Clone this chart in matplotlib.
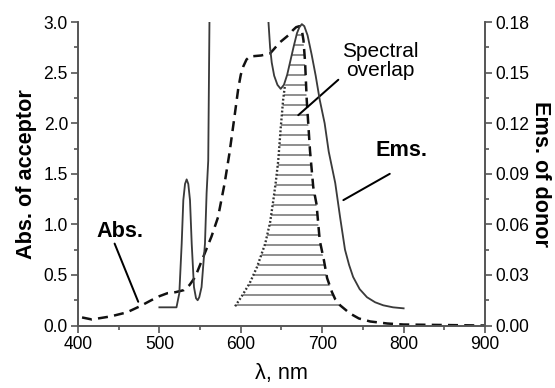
import numpy as np
import matplotlib.pyplot as plt
from matplotlib.patches import Polygon

plt.rcParams['font.family'] = ['Liberation Sans', 'DejaVu Sans']
plt.rcParams['hatch.linewidth'] = 0.7

# absorption of acceptor (left axis)
abs_nm = [405, 417, 440, 460, 476, 490, 500, 510, 520, 530, 537, 544, 554, 564, 572,
          580, 586, 592, 597, 600, 603, 607, 611, 625, 636, 648, 660, 664, 668, 672, 675,
          677, 679, 681, 685, 689, 693, 697, 702, 706, 712, 716, 722, 734, 745, 759, 780,
          800, 850, 900]
abs_val = [0.08, 0.06, 0.09, 0.13, 0.19, 0.25, 0.29, 0.32, 0.33, 0.35, 0.40, 0.48, 0.68, 0.88, 1.07,
           1.40, 1.70, 2.05, 2.35, 2.48, 2.56, 2.63, 2.66, 2.67, 2.69, 2.80, 2.88, 2.92, 2.95, 2.96, 2.92,
           2.82, 2.60, 2.23, 1.73, 1.37, 1.20, 0.84, 0.65, 0.47, 0.33, 0.26, 0.20, 0.12, 0.07, 0.04, 0.02,
           0.01, 0.005, 0.0]

# emission of donor (right axis)
ems_nm = [500, 521, 524.5, 527.4, 529.4, 531.5, 533.5, 535.5, 537.6, 539.7, 542.5, 545, 547, 549,
          551.8, 556, 558, 560, 561.5, 563, 600, 631, 634, 636, 638, 641, 645, 649, 653, 657, 661,
          665, 669, 672, 675, 678, 682, 687, 692, 697, 703, 708, 716, 722, 728, 733, 738, 746,
          755, 765, 775, 787, 800]
ems_val = [0.0108, 0.0108, 0.0192, 0.0486, 0.0744, 0.084, 0.0867, 0.084, 0.0744, 0.0486, 0.0228,
           0.0162, 0.015, 0.0168, 0.0228, 0.0486, 0.0786, 0.0978, 0.18, 0.22, 0.30, 0.20, 0.18,
           0.165, 0.156, 0.1482, 0.1428, 0.1404, 0.1428, 0.1488, 0.1572, 0.1656, 0.1734, 0.177,
           0.1788, 0.1776, 0.1722, 0.1608, 0.1482, 0.1338, 0.12, 0.1032, 0.0846, 0.0642, 0.045,
           0.036, 0.0288, 0.0216, 0.0168, 0.0138, 0.012, 0.0108, 0.0102]

# dotted left edge of the overlap region (left axis units)
dot_nm = [593, 602, 611, 620, 630, 636, 640, 643, 646, 649, 652, 654]
dot_val = [0.19, 0.30, 0.42, 0.58, 0.81, 1.02, 1.24, 1.42, 1.63, 1.95, 2.23, 2.36]

fig = plt.figure(figsize=(555 / 120, 388 / 120), dpi=120)
ax = fig.add_axes([0.1405, 0.161, 0.7334, 0.782])
ax2 = ax.twinx()

line_c = '#3a3a3a'
ax.plot(abs_nm, abs_val, color='#111111', lw=1.5, ls=(0, (4.0, 2.5)))
ax2.plot(ems_nm, ems_val, color=line_c, lw=1.1)
ax.plot(dot_nm, dot_val, color='#333333', lw=1.4, ls=(0, (0.8, 0.9)))

# hatched overlap region: dotted edge, rising emission, falling absorption
abs_nm_a = np.array(abs_nm)
abs_val_a = np.array(abs_val)
ems_nm_a = np.array(ems_nm)
ems_left = np.array(ems_val) / 0.06
m1 = (ems_nm_a > 654) & (ems_nm_a < 672)
m2 = (abs_nm_a >= 672) & (abs_nm_a <= 734)
px = np.concatenate([dot_nm, ems_nm_a[m1], abs_nm_a[m2]])
py = np.concatenate([dot_val, ems_left[m1], abs_val_a[m2]])
ax.add_patch(Polygon(np.column_stack([px, py]), closed=True, facecolor='none',
                     edgecolor='#444444', lw=0, hatch='--'))

ax.set_xlim(400, 900)
ax.set_ylim(0, 3.0)
ax2.set_ylim(0, 0.18)
ax.set_xticks([400, 500, 600, 700, 800, 900])
ax.set_xticks([450, 550, 650, 750, 850], minor=True)
ax.set_yticks([0, 0.5, 1.0, 1.5, 2.0, 2.5, 3.0])
ax.set_yticks([0.25, 0.75, 1.25, 1.75, 2.25, 2.75], minor=True)
ax2.set_yticks([0, 0.03, 0.06, 0.09, 0.12, 0.15, 0.18])
ax2.set_yticks([0.015, 0.045, 0.075, 0.105, 0.135, 0.165], minor=True)
ax.yaxis.set_major_formatter(plt.FormatStrFormatter('%.1f'))
ax2.yaxis.set_major_formatter(plt.FormatStrFormatter('%.2f'))

spine_c = '#555555'
for a in (ax, ax2):
    a.spines['top'].set_visible(False)
    for s in a.spines.values():
        s.set_color(spine_c)
        s.set_linewidth(1.0)
    a.tick_params(which='major', length=4, width=1.0, color=spine_c, labelsize=10.5, pad=2)
    a.tick_params(which='minor', length=2.5, width=1.0, color=spine_c)

ax.set_xlabel('λ, nm', fontsize=13, labelpad=6)
ax.set_ylabel('Abs. of acceptor', fontsize=13, fontweight='bold', labelpad=4)
ax2.set_ylabel('Ems. of donor', fontsize=13, fontweight='bold', rotation=270, labelpad=13)

ax.text(771, 2.62, 'Spectral\noverlap', fontsize=12.5, ha='center', va='center', linespacing=1.0)
ax.text(798, 1.73, 'Ems.', fontsize=13, fontweight='bold', ha='center', va='center')
ax.text(452, 0.93, 'Abs.', fontsize=13, fontweight='bold', ha='center', va='center')

arr = dict(arrowstyle='-', lw=1.2, color='black', shrinkA=0, shrinkB=0)
ax.annotate('', xy=(670.6, 2.08), xytext=(719.8, 2.43), arrowprops=arr)
ax.annotate('', xy=(726, 1.24), xytext=(783, 1.50), arrowprops=arr)
ax.annotate('', xy=(474, 0.235), xytext=(445, 0.81), arrowprops=arr)

fig.savefig('out.png', dpi=120)
